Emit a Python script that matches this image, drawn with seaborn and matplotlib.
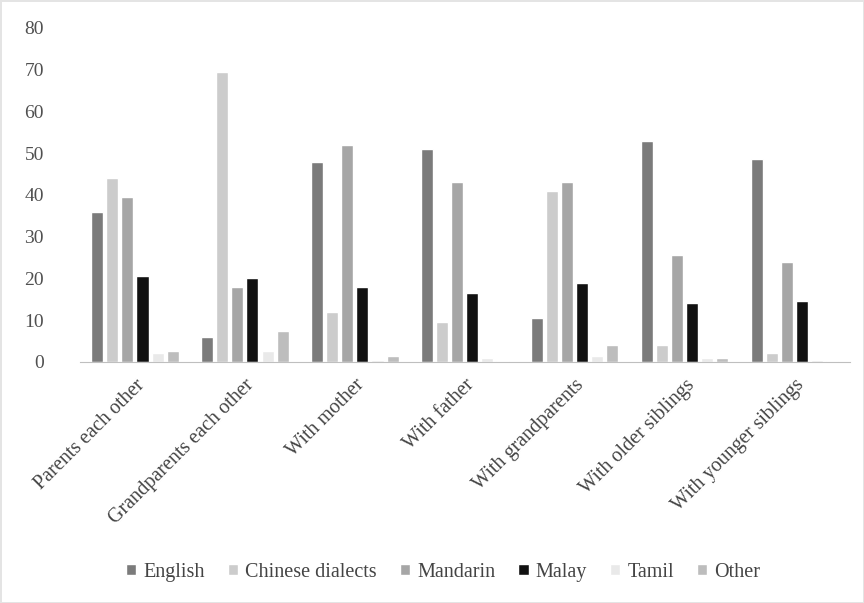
import numpy as np
import pandas as pd
import matplotlib
matplotlib.use("Agg")
import matplotlib.pyplot as plt
import seaborn as sns

categories = ["Parents each other", "Grandparents each other", "With mother",
              "With father", "With grandparents", "With older siblings",
              "With younger siblings"]
languages = ["English", "Chinese dialects", "Mandarin", "Malay", "Tamil", "Other"]

english = [36, 6, 48, 51, 10.5, 53, 48.5]
chinese_dialects = [44, 69.5, 12, 9.5, 41, 4, 2]
mandarin = [39.5, 18, 52, 43, 43, 25.5, 24]
malay = [20.5, 20, 18, 16.5, 19, 14, 14.5]
tamil = [2, 2.5, 0.5, 0.8, 1.5, 1, 0.5]
other = [2.5, 7.5, 1.5, 0.2, 4, 1, 0.3]

colors = ["#7b7b7b", "#cccccc", "#a6a6a6", "#111111", "#e9e9e9", "#bdbdbd"]

series = [english, chinese_dialects, mandarin, malay, tamil, other]
rows = []
for lang, vals in zip(languages, series):
    for cat, v in zip(categories, vals):
        rows.append({"category": cat, "language": lang, "value": v})
df = pd.DataFrame(rows)

sns.set_style("white")
plt.rcParams['font.family'] = ['Liberation Serif', 'DejaVu Serif']

fig = plt.figure(figsize=(8.64, 6.03), dpi=100)
ax = fig.add_axes([0.0926, 0.4, 0.891, 0.5536])

sns.barplot(data=df, x="category", y="value", hue="language",
            hue_order=languages, order=categories, palette=colors,
            width=0.82, gap=0.2, saturation=1, ax=ax, legend=True)

ax.set_ylim(0, 80)
ax.set_xlim(-0.5, 6.5)
ax.set_yticks(range(0, 81, 10))
ax.set_xlabel("")
ax.set_ylabel("")
for s in ["top", "right", "left"]:
    ax.spines[s].set_visible(False)
ax.spines["bottom"].set_color("#bfbfbf")
ax.tick_params(axis="y", length=0, pad=26, labelsize=14, colors="#505050")
ax.tick_params(axis="x", length=0, pad=10, labelsize=14.5, colors="#444444")
plt.setp(ax.get_xticklabels(), rotation=45, ha="right", rotation_mode="anchor")

handles, labels = ax.get_legend_handles_labels()
ax.get_legend().remove()
fig.legend(handles, labels, loc="center", bbox_to_anchor=(0.513, 0.051), ncol=6,
           frameon=False, fontsize=14.5, handlelength=0.5, handleheight=0.4,
           handletextpad=0.35, columnspacing=1.15, labelcolor="#444444")

fig.patch.set_edgecolor("#e4e4e4")
fig.patch.set_linewidth(2)
fig.savefig("out.png", dpi=100, edgecolor=fig.get_edgecolor())
